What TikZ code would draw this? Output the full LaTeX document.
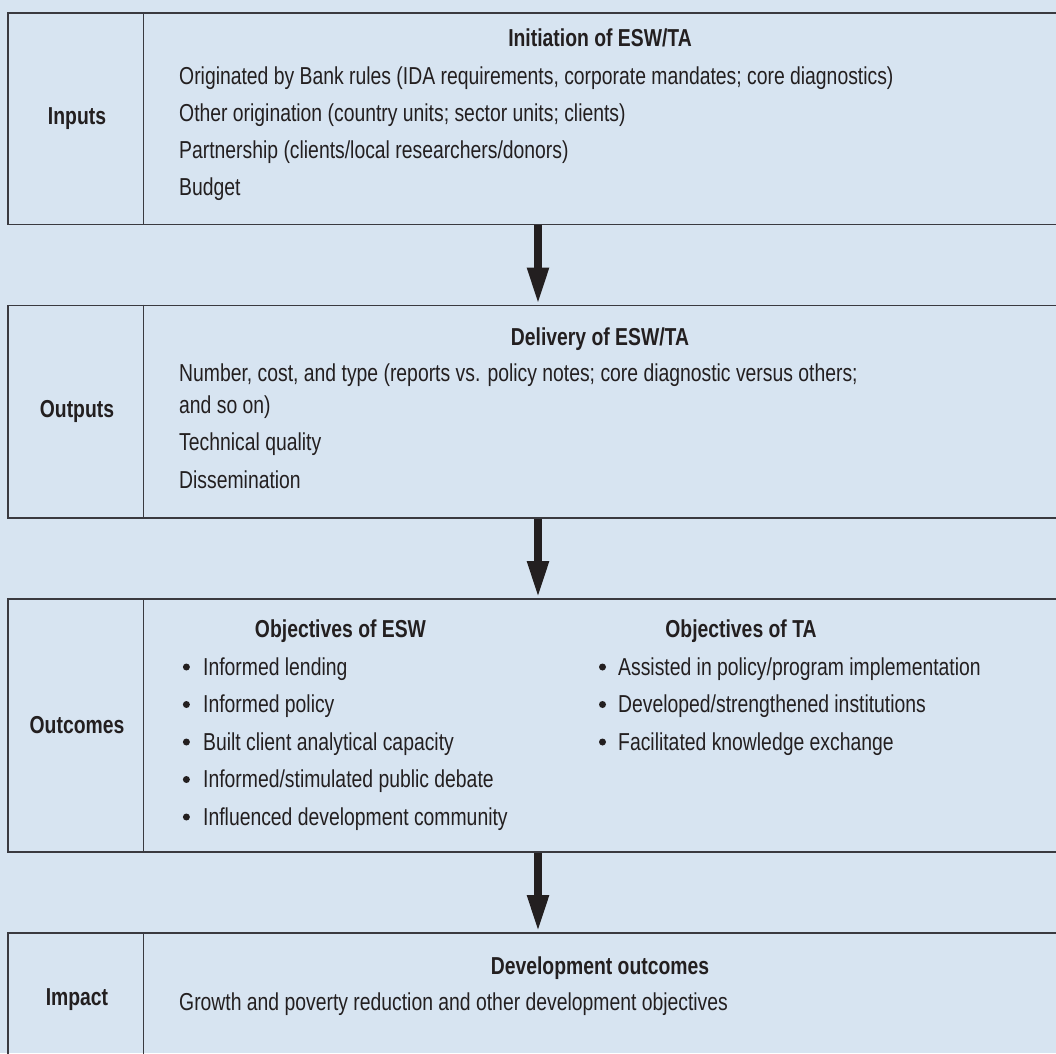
\documentclass[tikz,border=0pt]{standalone}
\usepackage{fontspec}
\setmainfont{Liberation Sans}[FakeStretch=0.79]
\usetikzlibrary{arrows.meta}
\definecolor{bg}{RGB}{215,228,241}
\definecolor{ln}{RGB}{58,58,64}
\definecolor{ink}{RGB}{35,31,32}
\begin{document}
\begin{tikzpicture}[x=1pt,y=-1pt,
  txt/.style={anchor=base west, inner sep=0pt, font=\fontsize{24.5}{30}\selectfont, text=ink},
  ttl/.style={anchor=base, inner sep=0pt, font=\fontsize{24.5}{30}\selectfont\bfseries, text=ink},
  panel/.style={draw=ln, line width=1.6pt, rectangle, anchor=north west, inner sep=0pt, minimum width=1100pt},
  bul/.style={circle, fill=ink, inner sep=0pt, minimum size=7pt},
  flow/.style={draw=ink, line width=8pt, -{Triangle[width=20pt,length=37pt]}}]
\useasboundingbox (0,0) rectangle (1056,1053);
\begin{scope}
\clip (0,0) rectangle (1056,1053);
\fill[bg] (0,0) rectangle (1056,1053);
\coordinate (div) at (143.5,0);
\coordinate (ax) at (538,0);
% panels
\node[panel, minimum height=211.5pt] (b1) at (7,12) {};
\node[panel, minimum height=212.5pt] (b2) at (7,304.5) {};
\node[panel, minimum height=253pt] (b3) at (7,598) {};
\node[panel, minimum height=200pt] (b4) at (7,932) {};
\draw[draw=ln, line width=1.6pt] (b1.north -| div) -- (b1.south -| div);
\draw[draw=ln, line width=1.6pt] (b2.north -| div) -- (b2.south -| div);
\draw[draw=ln, line width=1.6pt] (b3.north -| div) -- (b3.south -| div);
\draw[draw=ln, line width=1.6pt] (b4.north -| div) -- (b4.south -| div);
% arrows
\draw[flow] (b1.south -| ax) -- (b2.north -| ax);
\draw[flow] (b2.south -| ax) -- (b3.north -| ax);
\draw[flow] (b3.south -| ax) -- (b4.north -| ax);
\end{scope}
% labels
\node[ttl] (l1) at (77,124) {Inputs};
\node[ttl] (l2) at (77,417.5) {Outputs};
\node[ttl] (l3) at (77,733) {Outcomes};
\node[ttl] (l4) at (77,1005) {Impact};
% box 1
\node[ttl] (t1) at (600,46.7) {Initiation of ESW/TA};
\node[txt] (i1) at (179,84) {Originated by Bank rules (IDA requirements, corporate mandates; core diagnostics)};
\node[txt] (i2) at (179,121) {Other origination (country units; sector units; clients)};
\node[txt] (i3) at (179,158) {Partnership (clients/local researchers/donors)};
\node[txt] (i4) at (179,195) {Budget};
% box 2
\node[ttl] (t2) at (600,345.7) {Delivery of ESW/TA};
\node[txt] (o1) at (179,381.7) {Number, cost, and type (reports vs. policy notes; core diagnostic versus others;};
\node[txt] (o1b) at (179,413.3) {and so on)};
\node[txt] (o2) at (179,450.7) {Technical quality};
\node[txt] (o3) at (179,488.3) {Dissemination};
% box 3
\node[ttl] (t3a) at (340.5,637) {Objectives of ESW};
\node[ttl] (t3b) at (741,637) {Objectives of TA};
\foreach \y/\s [count=\k] in {675/Informed lending, 712.5/Informed policy, 750/Built client analytical capacity, 787.5/Informed\slash stimulated public debate, 825/Influenced development community}{
  \node[bul] (eb\k) at (186.4,\y-8) {};
  \node[txt] (e\k) at (203,\y) {\s};
}
\foreach \y/\s [count=\k] in {675/Assisted in policy\slash program implementation, 712.5/Developed\slash strengthened institutions, 750/Facilitated knowledge exchange}{
  \node[bul] (tb\k) at (602.5,\y-8) {};
  \node[txt] (ta\k) at (618,\y) {\s};
}
% box 4
\node[ttl] (t4) at (600,974) {Development outcomes};
\node[txt] (d1) at (179,1010.7) {Growth and poverty reduction and other development objectives};
\end{tikzpicture}
\end{document}
